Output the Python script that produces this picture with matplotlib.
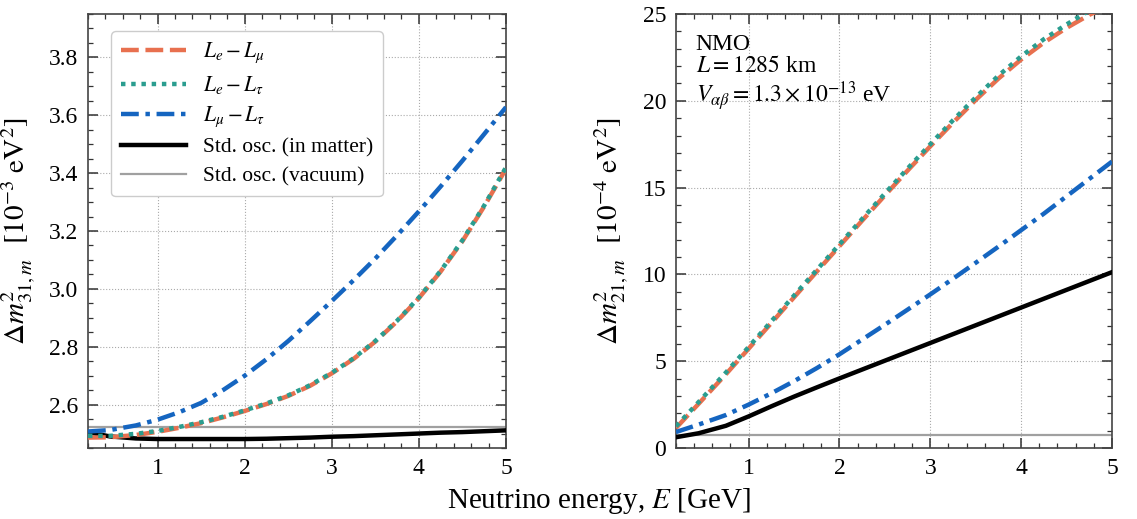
import matplotlib
matplotlib.use("Agg")
import matplotlib.pyplot as plt
from matplotlib.ticker import MultipleLocator

plt.rcParams['font.family'] = ['Liberation Serif', 'DejaVu Serif']
plt.rcParams['mathtext.fontset'] = 'stix'

# energies (GeV)
energy = [0.2, 0.45, 0.75, 1.0, 1.25, 1.5, 1.75, 2.0, 2.25, 2.5,
          2.75, 3.0, 3.25, 3.5, 3.75, 4.0, 4.25, 4.5, 4.75, 5.0]

# Delta m^2_31,m [1e-3 eV^2]
dm31_emu = [2.486, 2.487, 2.495, 2.506, 2.520, 2.536, 2.556, 2.578, 2.602, 2.630,
            2.665, 2.708, 2.758, 2.818, 2.888, 2.968, 3.060, 3.165, 3.285, 3.415]
dm31_etau = [2.492, 2.492, 2.499, 2.509, 2.523, 2.539, 2.558, 2.580, 2.604, 2.632,
             2.667, 2.710, 2.760, 2.820, 2.890, 2.970, 3.062, 3.168, 3.288, 3.420]
dm31_mutau = [2.507, 2.512, 2.528, 2.548, 2.574, 2.606, 2.650, 2.700, 2.757, 2.820,
              2.888, 2.958, 3.030, 3.105, 3.185, 3.268, 3.354, 3.443, 3.535, 3.628]
dm31_matter = [2.505, 2.490, 2.483, 2.481, 2.481, 2.481, 2.481, 2.481, 2.482, 2.484,
               2.486, 2.489, 2.491, 2.494, 2.497, 2.500, 2.503, 2.505, 2.508, 2.511]
dm31_vacuum = [2.522] * len(energy)

# Delta m^2_21,m [1e-4 eV^2]
dm21_emu = [1.15, 2.55, 4.25, 5.72, 7.20, 8.68, 10.16, 11.63, 13.10, 14.55,
            15.98, 17.38, 18.74, 20.05, 21.28, 22.38, 23.35, 24.20, 24.95, 25.60]
dm21_etau = [1.25, 2.65, 4.35, 5.82, 7.30, 8.78, 10.26, 11.73, 13.20, 14.66,
             16.10, 17.50, 18.88, 20.20, 21.45, 22.56, 23.55, 24.40, 25.20, 25.90]
dm21_mutau = [0.92, 1.35, 1.90, 2.50, 3.15, 3.85, 4.60, 5.40, 6.25, 7.10,
              7.97, 8.85, 9.75, 10.67, 11.60, 12.55, 13.50, 14.50, 15.50, 16.50]
dm21_matter = [0.62, 0.85, 1.28, 1.82, 2.40, 2.96, 3.49, 4.01, 4.52, 5.03,
               5.54, 6.05, 6.56, 7.07, 7.58, 8.09, 8.60, 9.11, 9.62, 10.13]
dm21_vacuum = [0.74] * len(energy)

C_ORANGE = '#e8704f'
C_TEAL = '#2a9d8f'
C_BLUE = '#1565c0'

fig = plt.figure(figsize=(11.37, 5.19), dpi=100)
ax1 = fig.add_axes([0.0774, 0.1368, 0.3676, 0.8362])
ax2 = fig.add_axes([0.5945, 0.1368, 0.3835, 0.8362])


def draw(ax, emu, etau, mutau, matter, vacuum):
    ax.plot(energy, vacuum, color='#a0a0a0', lw=1.6, label='Std. osc. (vacuum)', zorder=2)
    ax.plot(energy, matter, color='black', lw=3.2, label='Std. osc. (in matter)', zorder=3)
    ax.plot(energy, emu, color=C_ORANGE, lw=3.2, ls=(0, (4, 1.5)), label=r'$L_e - L_\mu$', zorder=4)
    ax.plot(energy, etau, color=C_TEAL, lw=3.2, ls=(0, (1, 1.3)), label=r'$L_e - L_\tau$', zorder=5)
    ax.plot(energy, mutau, color=C_BLUE, lw=3.2, ls=(0, (4, 1.5, 1, 1.5)), label=r'$L_\mu - L_\tau$', zorder=4)
    ax.set_xlim(0.2, 5)
    ax.xaxis.set_major_locator(MultipleLocator(1))
    ax.xaxis.set_minor_locator(MultipleLocator(0.2))
    ax.grid(True, which='major', ls=':', color='#aaaaaa', lw=0.8)
    ax.tick_params(which='both', direction='in', top=True, right=True,
                   labelsize=17, color='#333333', pad=7)
    ax.tick_params(which='major', length=7, width=1.1)
    ax.tick_params(which='minor', length=3.5, width=0.9)
    for s in ax.spines.values():
        s.set_color('#444444')
        s.set_linewidth(1.2)


draw(ax1, dm31_emu, dm31_etau, dm31_mutau, dm31_matter, dm31_vacuum)
ax1.set_ylim(2.45, 3.95)
ax1.yaxis.set_major_locator(MultipleLocator(0.2))
ax1.yaxis.set_minor_locator(MultipleLocator(0.05))
ax1.yaxis.set_major_formatter(plt.FormatStrFormatter('%.1f'))
ax1.set_ylabel(r'$\Delta m^2_{31,m}$  $[10^{-3}\ \mathrm{eV}^2]$', fontsize=21, labelpad=8)

h, l = ax1.get_legend_handles_labels()
order = [2, 3, 4, 1, 0]
ax1.legend([h[i] for i in order], [l[i] for i in order], loc='upper left',
           fontsize=15.5, handlelength=3.0, frameon=True, fancybox=True,
           edgecolor='#cccccc', framealpha=1.0, borderpad=0.45, labelspacing=0.4,
           bbox_to_anchor=(0.03, 0.985))

draw(ax2, dm21_emu, dm21_etau, dm21_mutau, dm21_matter, dm21_vacuum)
ax2.set_ylim(0, 25)
ax2.yaxis.set_major_locator(MultipleLocator(5))
ax2.yaxis.set_minor_locator(MultipleLocator(1))
ax2.set_ylabel(r'$\Delta m^2_{21,m}$  $[10^{-4}\ \mathrm{eV}^2]$', fontsize=21, labelpad=8)
ax2.text(0.045, 0.955, 'NMO\n' + r'$L = 1285$ km' + '\n' + r'$V_{\alpha\beta} = 1.3\times10^{-13}$ eV',
         transform=ax2.transAxes, fontsize=17, va='top', ha='left', linespacing=1.1)

fig.text(0.527, 0.005, r'Neutrino energy, $E$ [GeV]', fontsize=21, ha='center', va='bottom')

fig.savefig('out.png', dpi=100)
